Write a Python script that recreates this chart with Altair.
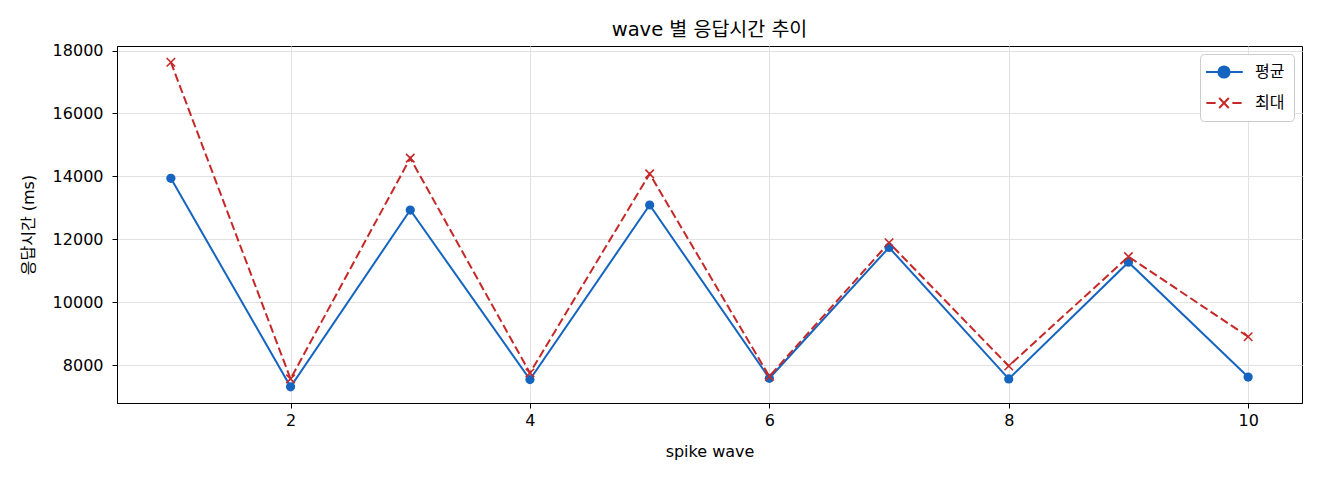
import altair as alt
import pandas as pd

waves = list(range(1, 11))
series_names = ["평균", "최대"]
series_colors = ["#1565c0", "#c62828"]
mean_ms = [13940, 7310, 12930, 7540, 13090, 7580, 11740, 7560, 11270, 7620]
max_ms = [17630, 7560, 14580, 7750, 14080, 7640, 11890, 7970, 11450, 8900]
y_ticks = [8000, 10000, 12000, 14000, 16000, 18000]
x_ticks = [2, 4, 6, 8, 10]

FONT = "DejaVu Sans, Noto Sans CJK KR"
DASH = [8.5, 3.7]

df = pd.concat([
    pd.DataFrame({"wave": waves, "ms": mean_ms, "series": series_names[0]}),
    pd.DataFrame({"wave": waves, "ms": max_ms, "series": series_names[1]}),
])

# matplotlib-like 5% margins
lo, hi = min(mean_ms + max_ms), max(mean_ms + max_ms)
pad = (hi - lo) * 0.05
x_pad = (max(waves) - min(waves)) * 0.05

X_PATH = "M-1,-1L1,1M-1,1L1,-1"
# legend handles: line with marker in the middle (shifted right inside the symbol box)
LEG_MEAN = "M-1.5,0L3.1,0M1.45,0A0.7,0.7,0,1,1,0.05,0A0.7,0.7,0,1,1,1.45,0Z"
LEG_MAX = "M-1.45,0L-0.3,0M1.8,0L2.95,0M0.15,-0.62L1.35,0.62M0.15,0.62L1.35,-0.62"

base = alt.Chart(df).encode(
    x=alt.X(
        "wave:Q",
        title="spike wave",
        scale=alt.Scale(domain=[min(waves) - x_pad, max(waves) + x_pad], nice=False, zero=False),
        axis=alt.Axis(values=x_ticks, titleY=48, titleBaseline="middle", labelPadding=4),
    ),
    y=alt.Y(
        "ms:Q",
        title="응답시간 (ms)",
        scale=alt.Scale(domain=[lo - pad, hi + pad], nice=False, zero=False),
        axis=alt.Axis(values=y_ticks, format="d", titleX=-89, titleBaseline="middle", labelPadding=9),
    ),
)

mean_only = base.transform_filter(alt.datum.series == series_names[0])
max_only = base.transform_filter(alt.datum.series == series_names[1])

mean_line = mean_only.mark_line(strokeWidth=2, color=series_colors[0])
max_line = max_only.mark_line(strokeWidth=2, color=series_colors[1], strokeDash=DASH)
dots = mean_only.mark_circle(size=85, opacity=1, color=series_colors[0])
crosses = max_only.mark_point(
    shape=X_PATH, filled=False, size=72, strokeWidth=1.6, opacity=1, color=series_colors[1]
)

legend = alt.Legend(
    title=None,
    orient="top-right",
    offset=8,
    symbolSize=256,
    symbolStrokeWidth=2,
    symbolOpacity=1,
    labelFontSize=16,
    labelFont=FONT,
    labelColor="black",
    labelOffset=28,
    rowPadding=12,
    padding=9,
    fillColor="white",
    strokeColor="#cccccc",
    cornerRadius=4,
)

# empty layer that only carries the legend
legend_layer = base.transform_filter("false").mark_point(size=256, strokeWidth=2, opacity=1).encode(
    stroke=alt.Stroke("series:N", scale=alt.Scale(domain=series_names, range=series_colors), legend=legend),
    fill=alt.Fill("series:N", scale=alt.Scale(domain=series_names, range=[series_colors[0], "transparent"]), legend=legend),
    shape=alt.Shape("series:N", scale=alt.Scale(domain=series_names, range=[LEG_MEAN, LEG_MAX]), legend=legend),
)

chart = (
    alt.layer(mean_line, max_line, dots, crosses, legend_layer)
    .properties(
        width=1185,
        height=357,
        title=alt.TitleParams("wave 별 응답시간 추이", fontSize=19.5, font=FONT, fontWeight="normal", color="black", offset=2),
        autosize=alt.AutoSizeParams(type="none"),
        padding={"left": 109, "top": 38, "right": 10, "bottom": 69},
    )
    .configure_view(stroke="black", strokeWidth=1)
    .configure_axis(
        labelFont=FONT,
        titleFont=FONT,
        labelFontSize=16,
        titleFontSize=16,
        titleFontWeight="normal",
        labelColor="black",
        titleColor="black",
        domainColor="black",
        tickColor="black",
        tickSize=5,
        gridColor="#e2e2e2",
    )
)

chart.save("out.html", embed_options={"renderer": "svg", "actions": False})
